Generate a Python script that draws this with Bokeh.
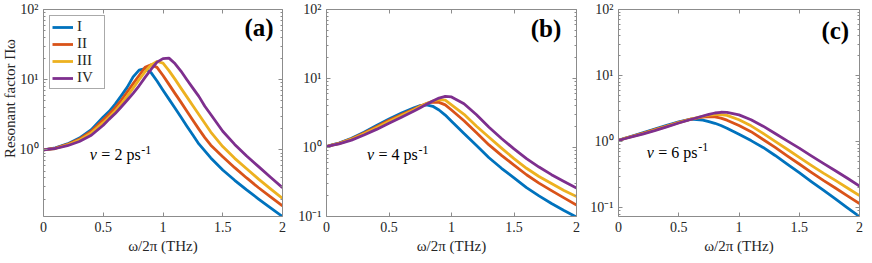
import math
from bokeh.plotting import figure
from bokeh.models import (Range1d, FixedTicker, LinearAxis, LogAxis, Label, Legend,
                          LegendItem, CustomJSTickFormatter)
from bokeh.layouts import row
from bokeh.embed import file_html
from bokeh.resources import INLINE

FONT = "'Liberation Serif'"
AX = "#8c8c8c"
TXT = "#262626"
COLORS = ["#0072BD", "#D95319", "#EDB120", "#7E2F8E"]
NAMES = ["I", "II", "III", "IV"]

x_ticks = [0, 0.5, 1, 1.5, 2]
x_tick_labels = ["0", "0.5", "1", "1.5", "2"]
y_ticks = [0.1, 1, 10, 100]
y_tick_labels = ["10⁻¹", "10⁰", "10¹", "10²"]
y_minor = [0.08, 0.09, 0.2, 0.3, 0.4, 0.5, 0.6, 0.7, 0.8, 0.9,
           2, 3, 4, 5, 6, 7, 8, 9, 20, 30, 40, 50, 60, 70, 80, 90]

# ---- panel (a): nu = 2 ps^-1 ----
x_a = [0, 0.1, 0.2, 0.3, 0.4, 0.5, 0.55, 0.6, 0.65, 0.7, 0.75, 0.8, 0.85, 0.9, 0.95,
       1.0, 1.05, 1.1, 1.15, 1.2, 1.25, 1.3, 1.35, 1.4, 1.5, 1.6, 1.7, 1.8, 1.9, 2.0]
a_I = [1.0, 1.07, 1.22, 1.48, 1.95, 2.95, 3.55, 4.5, 5.9, 7.8, 11.0, 13.7, 14.4, 12.6, 9.6,
       7.1, 5.3, 3.95, 2.95, 2.18, 1.63, 1.22, 0.97, 0.77, 0.52, 0.37, 0.27, 0.20, 0.15, 0.113]
a_II = [1.0, 1.06, 1.2, 1.43, 1.85, 2.7, 3.25, 4.0, 5.1, 6.7, 8.8, 11.5, 15.0, 16.4, 15.0,
        11.5, 8.6, 6.4, 4.8, 3.55, 2.65, 1.98, 1.5, 1.17, 0.8, 0.56, 0.40, 0.29, 0.215, 0.16]
a_III = [1.0, 1.05, 1.18, 1.38, 1.75, 2.45, 2.95, 3.6, 4.5, 5.8, 7.6, 10.0, 13.0, 16.2, 18.2,
         17.2, 13.5, 10.2, 7.6, 5.7, 4.25, 3.2, 2.4, 1.8, 1.12, 0.76, 0.54, 0.385, 0.28, 0.205]
a_IV = [1.0, 1.05, 1.15, 1.32, 1.62, 2.25, 2.75, 3.3, 4.1, 5.1, 6.4, 8.2, 10.8, 14.0, 17.8,
        20.0, 20.3, 17.0, 13.3, 10.0, 7.6, 5.8, 4.2, 3.2, 1.85, 1.2, 0.82, 0.58, 0.41, 0.29]

# ---- panel (b): nu = 4 ps^-1 ----
x_b = [0, 0.05, 0.1, 0.2, 0.3, 0.4, 0.5, 0.6, 0.7, 0.75, 0.8, 0.85, 0.9, 0.95, 1.0,
       1.1, 1.2, 1.3, 1.4, 1.5, 1.6, 1.7, 1.8, 1.9, 2.0]
b_I = [1.03, 1.1, 1.16, 1.36, 1.66, 2.08, 2.58, 3.15, 3.75, 4.05, 4.15, 3.95, 3.5, 2.95, 2.4,
       1.59, 1.07, 0.71, 0.5, 0.363, 0.262, 0.199, 0.154, 0.122, 0.098]
b_II = [1.03, 1.09, 1.15, 1.34, 1.62, 2.0, 2.48, 3.0, 3.62, 3.98, 4.35, 4.55, 4.5, 4.15, 3.5,
        2.44, 1.64, 1.09, 0.77, 0.557, 0.403, 0.305, 0.237, 0.186, 0.146]
b_III = [1.03, 1.09, 1.14, 1.32, 1.58, 1.93, 2.38, 2.9, 3.52, 3.92, 4.35, 4.72, 4.95, 4.85, 4.15,
         3.03, 2.03, 1.41, 0.98, 0.69, 0.5, 0.38, 0.3, 0.238, 0.195]
b_IV = [1.03, 1.08, 1.13, 1.28, 1.52, 1.83, 2.25, 2.75, 3.38, 3.78, 4.22, 4.72, 5.2, 5.5, 5.4,
        4.3, 2.98, 1.97, 1.35, 0.953, 0.689, 0.521, 0.404, 0.321, 0.258]

# ---- panel (c): nu = 6 ps^-1 ----
x_c = [0, 0.05, 0.1, 0.2, 0.3, 0.4, 0.5, 0.6, 0.7, 0.75, 0.8, 0.85, 0.9,
       1.0, 1.1, 1.2, 1.3, 1.4, 1.5, 1.6, 1.7, 1.8, 1.9, 2.0]
c_I = [1.05, 1.13, 1.2, 1.36, 1.55, 1.77, 2.0, 2.2, 2.12, 2.02, 1.9, 1.76, 1.6,
       1.3, 1.04, 0.82, 0.62, 0.46, 0.34, 0.25, 0.185, 0.137, 0.1, 0.074]
c_II = [1.05, 1.12, 1.19, 1.34, 1.52, 1.73, 1.96, 2.2, 2.36, 2.4, 2.37, 2.28, 2.12,
        1.76, 1.42, 1.08, 0.82, 0.61, 0.46, 0.345, 0.26, 0.2, 0.152, 0.116]
c_III = [1.05, 1.12, 1.18, 1.32, 1.5, 1.71, 1.94, 2.19, 2.42, 2.52, 2.58, 2.58, 2.5,
         2.15, 1.74, 1.34, 1.01, 0.77, 0.58, 0.44, 0.335, 0.26, 0.2, 0.153]
c_IV = [1.05, 1.11, 1.17, 1.3, 1.47, 1.68, 1.92, 2.17, 2.45, 2.6, 2.72, 2.79, 2.78,
        2.55, 2.15, 1.72, 1.33, 1.03, 0.8, 0.61, 0.47, 0.365, 0.28, 0.213]

y_low = [0.113, 0.1, 0.074]
panel_tags = ["(a)", "(b)", "(c)"]
nu_texts = ["= 2 ps", "= 4 ps", "= 6 ps"]
x_label = "ω/2π (THz)"
y_label = "Resonant factor Πω"


def style_axis(ax, labels=True):
    ax.axis_line_color = AX
    ax.axis_line_width = 1
    ax.major_tick_line_color = AX
    ax.minor_tick_line_color = AX
    ax.major_tick_in = 4
    ax.major_tick_out = 0
    ax.minor_tick_in = 2
    ax.minor_tick_out = 0
    ax.major_label_text_font = FONT
    ax.major_label_text_font_size = "14px"
    ax.major_label_text_color = TXT
    if not labels:
        ax.formatter = CustomJSTickFormatter(code="return ''")
        ax.major_label_standoff = 0


def lab(p, x, y, text, size, place="center", **kw):
    kw.setdefault("text_color", TXT)
    p.add_layout(Label(x=x, y=y, text=text, text_font=FONT, text_font_size=size, **kw), place)


def make_panel(x, series, ylo, width, bl, br, tag, tag_x, tag_y, nu_text, nu_x, nu_y, sup_y,
               legend=False, ylabel=False):
    p = figure(width=width, height=255, x_range=Range1d(0, 2), y_range=Range1d(ylo, 100),
               y_axis_type="log", output_backend="svg", toolbar_location=None,
               min_border_left=bl, min_border_right=br, min_border_top=9, min_border_bottom=39)
    p.xgrid.visible = False
    p.ygrid.visible = False
    p.outline_line_color = None
    p.background_fill_color = "white"
    p.border_fill_color = "white"

    rends = []
    for ys, c in zip(series, COLORS):
        rends.append(p.line(x, ys, line_width=2.8, line_color=c, line_join="round"))

    xa = p.xaxis[0]
    xa.ticker = FixedTicker(ticks=x_ticks, minor_ticks=[])
    xa.major_label_overrides = dict(zip(x_ticks, x_tick_labels))
    style_axis(xa)
    xa.major_label_standoff = 5

    ya = p.yaxis[0]
    ya.ticker = FixedTicker(ticks=y_ticks, minor_ticks=y_minor)
    ya.major_label_overrides = dict(zip(y_ticks, y_tick_labels))
    style_axis(ya)
    ya.major_label_standoff = 5

    top = LinearAxis(ticker=FixedTicker(ticks=x_ticks, minor_ticks=[]))
    style_axis(top, labels=False)
    p.add_layout(top, "above")
    right = LogAxis(ticker=FixedTicker(ticks=y_ticks, minor_ticks=y_minor))
    style_axis(right, labels=False)
    p.add_layout(right, "right")

    # x axis label: one serif label in the panel below the axis
    lab(p, 1, ylo, x_label, "15px", place="below", y_offset=-21, text_align="center",
        text_baseline="top")

    lab(p, tag_x, tag_y, tag, "25px", text_font_style="bold", text_align="right",
        text_baseline="middle", text_color="black")
    lab(p, nu_x, nu_y, "ν", "16px", text_font_style="italic", text_baseline="middle",
        text_color="black")
    lab(p, nu_x, nu_y, nu_text, "16px", x_offset=11.5, text_baseline="middle",
        text_color="black")
    lab(p, nu_x, sup_y, "-1", "12px", x_offset=51.5, text_baseline="middle",
        text_color="black")

    if ylabel:
        lab(p, 0, 38, y_label, "15px", place="left", x_offset=-34, angle=math.pi / 2,
            text_align="right", text_baseline="middle")

    if legend:
        leg = Legend(items=[LegendItem(label=n_, renderers=[r]) for n_, r in zip(NAMES, rends)],
                     location="top_left", margin=6, padding=2, spacing=0,
                     glyph_width=21, glyph_height=16, label_height=16, label_width=25,
                     label_standoff=4, label_text_font=FONT, label_text_font_size="15px",
                     label_text_color=TXT,
                     border_line_color="#555555", border_line_width=1,
                     background_fill_color="white", background_fill_alpha=1.0)
        p.add_layout(leg)
    return p


p1 = make_panel(x_a, [a_I, a_II, a_III, a_IV], y_low[0], 290, 41, 8, panel_tags[0], 1.925, 55,
                nu_texts[0], 0.388, 0.86, 1.01, legend=True, ylabel=True)
p2 = make_panel(x_b, [b_I, b_II, b_III, b_IV], y_low[1], 295, 36, 9, panel_tags[1], 1.878, 53,
                nu_texts[1], 0.324, 0.78, 0.92)
p3 = make_panel(x_c, [c_I, c_II, c_III, c_IV], y_low[2], 278, 33, 4, panel_tags[2], 1.914, 48,
                nu_texts[2], 0.234, 0.69, 0.82)

layout = row(p1, p2, p3)
open("out.html", "w").write(file_html(layout, INLINE))
